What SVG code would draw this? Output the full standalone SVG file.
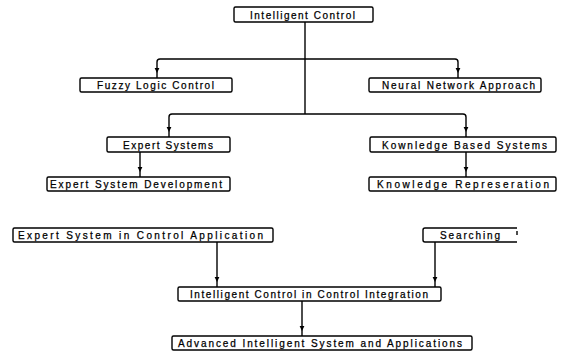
<svg xmlns="http://www.w3.org/2000/svg" width="564" height="355" viewBox="0 0 564 355">
<style>
.box{fill:#fff;stroke:#000;stroke-width:1.4}
.lbl{font-family:"Liberation Sans",Arial,sans-serif;font-size:10px;fill:#000;stroke:#000;stroke-width:0.25}
.con{fill:none;stroke:#000;stroke-width:1.4;stroke-linejoin:round}
.arr{marker-end:url(#ah)}
</style>
<defs>
<marker id="ah" markerUnits="userSpaceOnUse" markerWidth="10" markerHeight="6" viewBox="0 0 10 6" refX="10" refY="3" orient="auto">
<path d="M0,0.6 L5,3 L0,5.4 z" fill="#000"/>
</marker>
</defs>
<rect width="564" height="355" fill="#fff"/>
<g id="connectors">
<path class="con" d="M305,22 V114"/>
<path class="con arr" d="M305,59 H160 Q157,59 157,62 V78"/>
<path class="con arr" d="M305,59 H455 Q458,59 458,62 V78"/>
<path class="con arr" d="M305,114 H172 Q169,114 169,117 V137"/>
<path class="con arr" d="M305,114 H463 Q466,114 466,117 V137"/>
<path class="con arr" d="M140,152 V177"/>
<path class="con arr" d="M466,152 V177"/>
<path class="con arr" d="M217,242 V287"/>
<path class="con arr" d="M435,242 V287"/>
<path class="con arr" d="M302,301 V336"/>
</g>
<g id="n-intelligent-control"><rect class="box" x="234" y="7" width="139" height="15" rx="1.5"/><text class="lbl" x="250" y="18.5" textLength="105" lengthAdjust="spacing">Intelligent Control</text></g>
<g id="n-fuzzy"><rect class="box" x="80" y="78" width="152" height="14" rx="1.5"/><text class="lbl" x="97" y="88.5" textLength="117" lengthAdjust="spacing">Fuzzy Logic Control</text></g>
<g id="n-neural"><rect class="box" x="369" y="78" width="172" height="14" rx="1.5"/><text class="lbl" x="382" y="88.5" textLength="153" lengthAdjust="spacing">Neural Network Approach</text></g>
<g id="n-expert-systems"><rect class="box" x="107" y="137" width="123" height="15" rx="1.5"/><text class="lbl" x="123" y="148.5" textLength="90" lengthAdjust="spacing">Expert Systems</text></g>
<g id="n-kbs"><rect class="box" x="370" y="137" width="186" height="15" rx="1.5"/><text class="lbl" x="382" y="148.5" textLength="165" lengthAdjust="spacing">Kownledge Based Systems</text></g>
<g id="n-esd"><rect class="box" x="47" y="177" width="183" height="14" rx="1.5"/><text class="lbl" x="50" y="187.5" textLength="172" lengthAdjust="spacing">Expert System Development</text></g>
<g id="n-kr"><rect class="box" x="369" y="177" width="187" height="14" rx="1.5"/><text class="lbl" x="377" y="187.5" textLength="172" lengthAdjust="spacing">Knowledge Represeration</text></g>
<g id="n-esca"><rect class="box" x="13" y="228" width="260" height="14" rx="1.5"/><text class="lbl" x="18" y="238.5" textLength="245" lengthAdjust="spacing">Expert System in Control Application</text></g>
<g id="n-searching"><path class="con" d="M517,228 H425 Q423,228 423,230 V240 Q423,242 425,242 H517"/><path class="con" d="M517,231 V235"/><text class="lbl" x="440" y="238.5" textLength="60" lengthAdjust="spacing">Searching</text></g>
<g id="n-icci"><rect class="box" x="178" y="287" width="263" height="14" rx="1.5"/><text class="lbl" x="190" y="297.5" textLength="238" lengthAdjust="spacing">Intelligent Control in Control Integration</text></g>
<g id="n-advanced"><rect class="box" x="172" y="336" width="300" height="14" rx="1.5"/><text class="lbl" x="178" y="346.5" textLength="284" lengthAdjust="spacing">Advanced Intelligent System and Applications</text></g>
</svg>
